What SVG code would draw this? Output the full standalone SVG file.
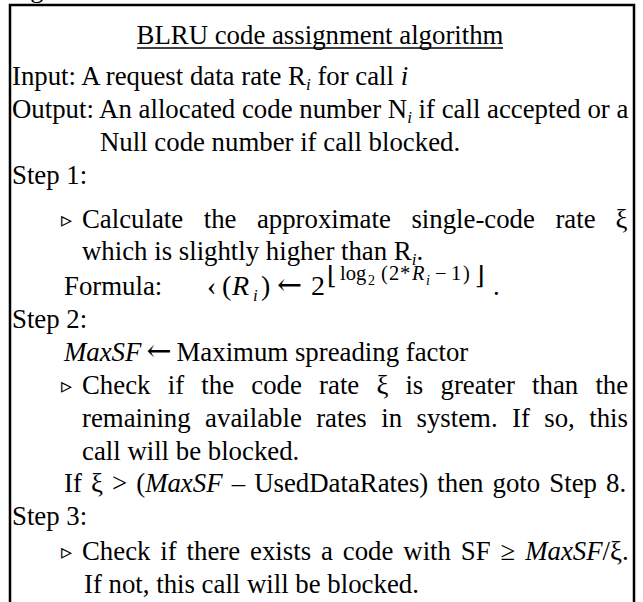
<svg xmlns="http://www.w3.org/2000/svg" width="643" height="602" viewBox="0 0 643 602">
  <style>
    text { font-family: "Liberation Serif", "Times New Roman", "DejaVu Serif", serif; font-size: 26.8px; fill: #000; }
    .it { font-style: italic; }
    .sub { font-size: 17px; }
    .tri { font-family: "DejaVu Sans", sans-serif; font-size: 22px; }
    .m { font-size: 28px; }
    .arr { font-family: "DejaVu Serif", serif; font-size: 30px; }
    .sup { font-size: 20.5px; }
    .ssub { font-size: 14px; }
    .br { font-family: "DejaVu Serif", serif; font-size: 25px; }
    .frame { fill: none; stroke: #000; stroke-width: 2.5; }
  </style>

  <rect width="643" height="602" fill="#fff"/>

  <!-- caption fragment above the box -->
  <text x="8" y="-3">Fig</text>

  <!-- algorithm box, open at the bottom -->
  <path class="frame" d="M10,604 V5 H634 V604"/>

  <g id="title">
    <text x="320" y="44" text-anchor="middle">BLRU code assignment algorithm</text>
    <line x1="137" y1="48" x2="503" y2="48" stroke="#000" stroke-width="1.3"/>
  </g>

  <g id="io">
    <text x="12" y="85">Input: A request data rate R<tspan class="it sub" dy="5">i</tspan><tspan dy="-5"> for call </tspan><tspan class="it">i</tspan></text>
    <text x="12" y="118">Output: An allocated code number N<tspan class="it sub" dy="5">i</tspan><tspan dy="-5"> if call accepted or a</tspan></text>
    <text x="100" y="151">Null code number if call blocked.</text>
  </g>

  <g id="step1">
    <text x="12" y="184">Step 1:</text>
    <text class="tri" x="61" y="227">▹</text>
    <text y="228"><tspan x="82">Calculate</tspan><tspan x="203.7">the</tspan><tspan x="256.9">approximate</tspan><tspan x="411.4">single-code</tspan><tspan x="555.4">rate</tspan><tspan x="615.5">ξ</tspan></text>
    <text x="82" y="260">which is slightly higher than R<tspan class="it sub" dy="5">i</tspan><tspan dy="-5">.</tspan></text>
    <text x="64" y="295">Formula:</text>
    <!-- ‹(Ri) ← 2^floor(log2(2*Ri-1)) -->
    <text class="m" x="207" y="295">‹</text>
    <text class="m" x="222" y="295">(</text>
    <text class="m it" x="232" y="295">R</text>
    <text class="it sub" x="253" y="301">i</text>
    <text class="m" x="261" y="295">)</text>
    <text class="arr" x="277" y="295">←</text>
    <text class="m" x="311" y="295">2</text>
    <text class="br" x="327" y="284">⌊</text>
    <text class="sup" x="340" y="280">log</text>
    <text class="ssub" x="368" y="285">2</text>
    <text class="sup" x="381" y="280">(</text>
    <text class="sup" x="389" y="280">2</text>
    <text class="sup" x="400" y="280">*</text>
    <text class="sup it" x="412" y="280">R</text>
    <text class="ssub it" x="426" y="285">i</text>
    <text class="sup" x="435" y="280">−</text>
    <text class="sup" x="451" y="280">1</text>
    <text class="sup" x="463" y="280">)</text>
    <text class="br" x="475" y="284">⌋</text>
    <text x="493" y="295">.</text>
  </g>

  <g id="step2">
    <text x="12" y="328">Step 2:</text>
    <text x="64" y="361"><tspan class="it">MaxSF</tspan><tspan class="arr" font-size="27" dx="5">←</tspan><tspan dx="5">Maximum spreading factor</tspan></text>
    <text class="tri" x="61" y="393">▹</text>
    <text y="394"><tspan x="82">Check</tspan><tspan x="167.7">if</tspan><tspan x="201.3">the</tspan><tspan x="251.3">code</tspan><tspan x="319.1">rate</tspan><tspan x="376.5">ξ</tspan><tspan x="405.4">is</tspan><tspan x="440.5">greater</tspan><tspan x="532.1">than</tspan><tspan x="595.4">the</tspan></text>
    <text y="427"><tspan x="82">remaining</tspan><tspan x="205.1">available</tspan><tspan x="316.2">rates</tspan><tspan x="381.2">in</tspan><tspan x="416.5">system.</tspan><tspan x="512.1">If</tspan><tspan x="544.3">so,</tspan><tspan x="589.2">this</tspan></text>
    <text x="82" y="460">call will be blocked.</text>
    <text x="64" y="492" word-spacing="2.4">If ξ &gt; (<tspan class="it">MaxSF</tspan> – UsedDataRates) then goto Step 8.</text>
  </g>

  <g id="step3">
    <text x="12" y="525">Step 3:</text>
    <text class="tri" x="61" y="559">▹</text>
    <text x="82" y="560" word-spacing="3.2">Check if there exists a code with SF ≥ <tspan class="it">MaxSF</tspan>/ξ.</text>
    <text x="84" y="593">If not, this call will be blocked.</text>
  </g>
</svg>
